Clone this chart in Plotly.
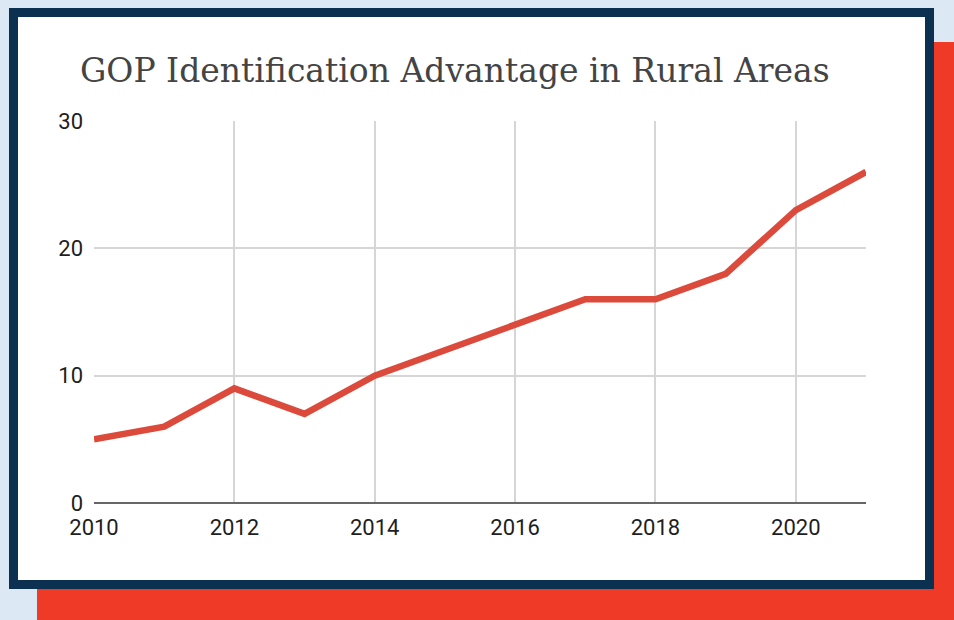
import plotly.graph_objects as go

years = [2010, 2011, 2012, 2013, 2014, 2015, 2016, 2017, 2018, 2019, 2020, 2021]
advantage = [5, 6, 9, 7, 10, 12, 14, 16, 16, 18, 23, 26]
x_ticks = [2010, 2012, 2014, 2016, 2018, 2020]
y_ticks = [0, 10, 20, 30]
title_text = "GOP Identification Advantage in Rural Areas"

W, H = 954, 620
L, R, T, B = 94, 88, 121, 117
pw, ph = W - L - R, H - T - B

def px(x):
    return (x - L) / pw

def py(y):
    return (H - B - y) / ph

def rect(x0, y0, x1, y1, color):
    return dict(type="rect", xref="paper", yref="paper",
                x0=px(x0), x1=px(x1), y0=py(y1), y1=py(y0),
                fillcolor=color, line=dict(width=0), layer="below")

fig = go.Figure()
fig.add_trace(go.Scatter(x=years, y=advantage, mode="lines",
                         line=dict(color="#db4a3b", width=6.5),
                         hoverinfo="skip", cliponaxis=False))

tick_font = dict(family="Roboto", size=22, color="#1e1e1e")

fig.update_layout(
    width=W, height=H,
    margin=dict(l=L, r=R, t=T, b=B, pad=0),
    paper_bgcolor="#dce8f3",
    plot_bgcolor="rgba(0,0,0,0)",
    showlegend=False,
    shapes=[
        rect(37, 42, 954, 620, "#ee3a26"),
        rect(9, 8, 934, 589, "#0c3050"),
        rect(18, 17, 925, 580, "#ffffff"),
    ],
    annotations=[dict(text=title_text, xref="paper", yref="paper",
                      x=px(455), y=py(71), xanchor="center", yanchor="middle",
                      showarrow=False,
                      font=dict(family="DejaVu Serif", size=33, color="#444444"))],
    xaxis=dict(range=[2010, 2021], tickvals=x_ticks, showgrid=True,
               gridcolor="#d6d6d6", gridwidth=2, zeroline=False,
               showline=False, ticks="", ticklabelstandoff=9,
               tickfont=tick_font),
    yaxis=dict(range=[0, 30], tickvals=y_ticks, showgrid=True,
               gridcolor="#d6d6d6", gridwidth=2, zeroline=True,
               zerolinecolor="#666666", zerolinewidth=2.5,
               showline=False, ticks="", ticklabelstandoff=10,
               tickfont=tick_font),
)

fig.write_html("out.html",
               config={"displayModeBar": False, "staticPlot": True},
               post_script="document.body.style.margin='0';"
                           "document.body.style.overflow='hidden';")
